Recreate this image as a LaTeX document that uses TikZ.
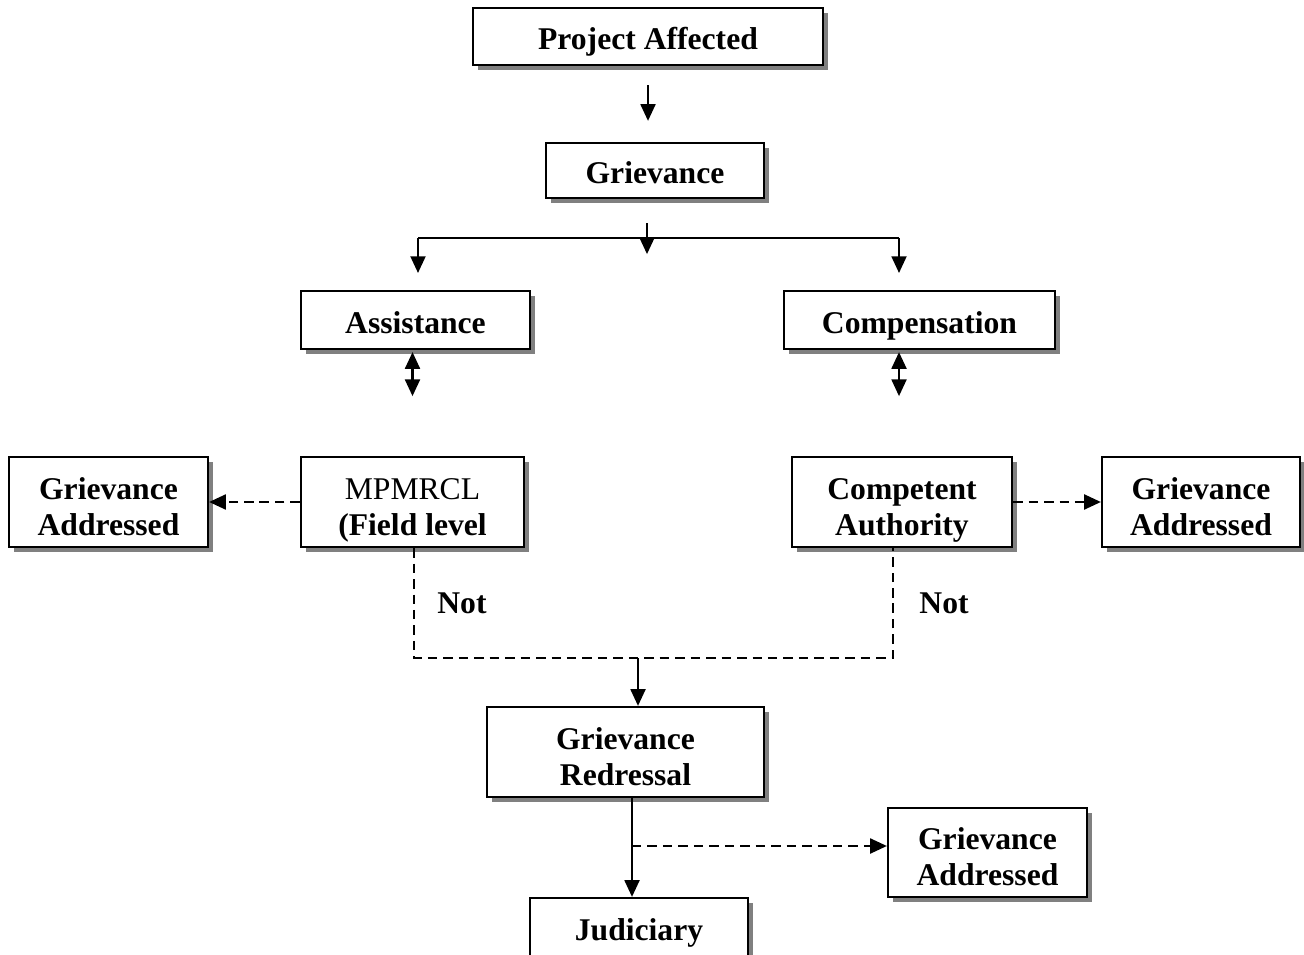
\documentclass[tikz,border=0pt]{standalone}
\usepackage{fontspec}
\setmainfont{Liberation Serif}
\usetikzlibrary{calc,shadows,arrows.meta}

\begin{document}
\begin{tikzpicture}[x=0.02cm,y=0.02cm,
    box/.style={draw,line width=1.3pt,fill=white,align=center,inner sep=0pt,
      font=\fontsize{18}{20.5}\selectfont\bfseries,
      text height=19pt,text depth=4pt,minimum height=1.16cm,
      drop shadow={shadow xshift=0.1cm,shadow yshift=-0.1cm,fill=black!50,opacity=1}},
    tallbox/.style={box,text height=42pt,minimum height=1.8cm},
    lne/.style={line width=1.2pt},
    arr/.style={lne,-{Triangle[length=9.5pt,width=8.5pt]}},
    arrb/.style={lne,{Triangle[length=9.5pt,width=8.5pt]}-{Triangle[length=9.5pt,width=8.5pt]}},
    dsh/.style={lne,dash pattern=on 5.4pt off 3.4pt},
    lbl/.style={font=\fontsize{18}{20.5}\selectfont\bfseries}]
    \clip (0,0) rectangle (1304,-955);
    % Boxes
    \node[box,minimum width=7cm,minimum height=1.14cm] (pa) at (648,-36.5) {Project Affected};
    \node[box,minimum width=4.36cm,minimum height=1.1cm] (grv) at (655,-170.5) {Grievance};
    \node[box,minimum width=4.58cm] (asst) at (415.5,-320) {Assistance};
    \node[box,minimum width=5.42cm] (comp) at (919.5,-320) {Compensation};
    \node[tallbox,minimum width=3.98cm] (gal) at (108.5,-502) {Grievance\\Addressed};
    \node[tallbox,minimum width=4.46cm] (mpm) at (412.5,-502) {\mdseries MPMRCL\\(Field level};
    \node[tallbox,minimum width=4.4cm] (cauth) at (902,-502) {Competent\\Authority};
    \node[tallbox,minimum width=3.96cm] (gar) at (1201,-502) {Grievance\\Addressed};
    \node[tallbox,minimum width=5.54cm] (redr) at (625.5,-752) {Grievance\\Redressal};
    \node[tallbox,minimum width=3.98cm,minimum height=1.78cm] (gab) at (987.5,-852.5) {Grievance\\Addressed};
    \node[box,minimum width=4.36cm] (jud) at (639,-927) {Judiciary};
    % Labels
    \node[lbl] (not1) at (462,-603) {Not};
    \node[lbl] (not2) at (944,-603) {Not};
    % Points
    \coordinate (fc) at (647,-238);
    \coordinate (fl) at (418,-238);
    \coordinate (fr) at (899,-238);
    \coordinate (nl) at (414,-658);
    \coordinate (nr) at (893,-658);
    \coordinate (nm) at (638,-658);
    \coordinate (rj) at (632,-846);
    % Arrows
    \draw[arr,shorten <=0.38cm,shorten >=0.42cm] (pa.south) -- (pa.south |- grv.north);
    \draw[lne] (fl) -- (fr);
    \draw[arr,shorten <=0.48cm] (fc |- grv.south) -- ++(0,-55);
    \draw[arr] (fl) -- ++(0,-35);
    \draw[arr] (fr) -- ++(0,-35);
    \draw[arrb,shorten <=0.04cm] (mpm.north |- asst.south) -- ++(0,-46);
    \draw[arrb,shorten <=0.04cm] (fr |- comp.south) -- ++(0,-46);
    \draw[dsh,arr] (mpm.west) -- (gal.east);
    \draw[dsh,arr] (cauth.east) -- (gar.west);
    \draw[dsh] (nl |- mpm.south) -- (nl) -- (nr) -- (nr |- cauth.south);
    \draw[arr] (nm) -- (nm |- redr.north);
    \draw[arr] (rj |- redr.south) -- (rj |- jud.north);
    \draw[dsh,arr] (rj) -- (rj -| gab.west);
\end{tikzpicture}
\end{document}
